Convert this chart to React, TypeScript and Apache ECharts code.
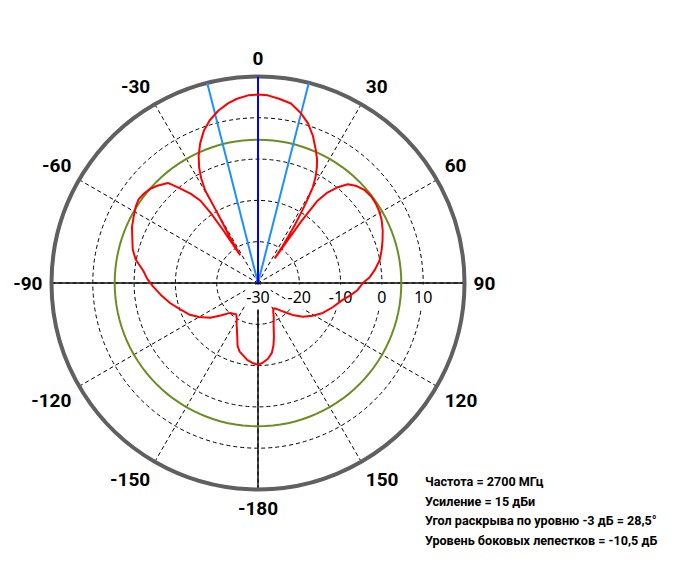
import React, { useEffect, useRef } from "react";
import * as echarts from "echarts";

// Radiation pattern (angle in degrees, gain in dBi)
const patternAngles = [
  -180, -176, -172, -168, -165, -162, -159, -156, -153, -149, -145, -141, -137, -131, -126, -120, -115, -109, -103, -97,
  -92, -88, -84, -79, -75, -70, -66, -62, -58, -55, -52, -49, -46, -42, -39.5, -37, -35, -34, -33.4, -32.7,
  -31.5, -30.5, -30, -29.7, -28.5, -27, -25, -22.5, -19.5, -16.5, -13, -9.5, -6.5, -3, 0, 3, 6.5, 10.4, 14, 17.4,
  20.5, 23.6, 25.5, 27, 28.5, 29.8, 30.8, 31.6, 32.4, 33.1, 33.7, 34.2, 35, 35.9, 37.5, 39.8, 42.3, 45.5, 49, 52.5,
  56, 59.5, 63, 67, 71, 75, 79.3, 83.5, 87, 90, 94, 98, 101.3, 108, 114.8, 121, 127, 132, 136, 140,
  144, 148, 151.5, 155.5, 159.5, 163.5, 166, 168.7, 172.5, 176.4, 180,
];
const patternGain = [
  -10.2, -10.6, -11.2, -12.2, -12.8, -14.0, -16.0, -17.5, -18.6, -20.0, -20.8, -20.4, -20.1, -18.0, -15.7, -13.5, -11.8, -10.2, -8.2, -6.3,
  -4.6, -3.2, -2.1, 0.2, 1.4, 2.4, 3.4, 4.1, 4.9, 5.3, 5.1, 4.7, 3.9, 2.6, -0.3, -3.0, -5.6, -9.5, -14.7, -22.0,
  -17.0, -13.0, -9.0, -4.2, -1.2, 1.4, 4.0, 6.6, 9.2, 11.1, 12.8, 14.1, 14.9, 15.5, 15.65, 15.5, 14.9, 14.2, 12.5, 10.5,
  8.0, 5.0, 3.2, 1.4, -0.8, -3.3, -7.0, -10.2, -13.5, -16.7, -19.5, -22.8, -12.0, -5.4, -2.4, 0.2, 2.3, 3.5, 4.25, 4.5,
  4.4, 4.1, 3.6, 2.8, 1.9, 1.0, 0.0, -1.5, -2.9, -4.6, -5.8, -7.6, -9.1, -11.0, -12.7, -14.6, -16.4, -18.3, -19.9, -21.2,
  -22.2, -22.8, -22.3, -20.8, -19.2, -16.4, -14.5, -12.8, -11.5, -10.7, -10.2,
];

const radialMin = -30;
const radialMax = 20;
const radialStep = 10;
const angleStep = 30;
const sidelobeLevel = 4.7;
const mainBeamAngle = 0;
const beamEdges = [-14.25, 14.25];
const infoLines = [
  "Частота = 2700 МГц",
  "Усиление = 15 дБи",
  "Угол раскрыва по уровню -3 дБ = 28,5°",
  "Уровень боковых лепестков = -10,5 дБ",
];

// map a pattern angle (-180..180, 0 = up, clockwise) onto the axis (90..450, starting at 3 o'clock)
const toAxisAngle = (t: number) => (t < 90 ? t + 360 : t);

export default function App() {
  const ref = useRef<HTMLDivElement>(null);

  useEffect(() => {
    if (!ref.current) return;
    const chart = echarts.init(ref.current, undefined, { renderer: "svg" });

    const redData = patternAngles.map((a, i) => [patternGain[i], toAxisAngle(a)]);
    const greenData: number[][] = [];
    for (let a = 90; a <= 450; a += 3) greenData.push([sidelobeLevel, a]);

    const lineBase = {
      type: "line",
      coordinateSystem: "polar",
      symbol: "none",
      silent: true,
      animation: false,
    };

    chart.setOption({
      animation: false,
      backgroundColor: "#ffffff",
      polar: { center: [258, 283], radius: 206.5 },
      angleAxis: {
        type: "value",
        min: 90,
        max: 450,
        interval: angleStep,
        startAngle: 0,
        clockwise: true,
        axisLine: { show: true, lineStyle: { color: "#606060", width: 4 } },
        axisTick: { show: false },
        axisLabel: {
          margin: 9,
          color: "#000",
          fontSize: 19,
          fontWeight: "bold",
          fontFamily: "Roboto, sans-serif",
          formatter: (v: number) => {
            if (v === 450) return "";
            let a = ((v % 360) + 360) % 360;
            if (a >= 180) a -= 360;
            return String(a);
          },
        },
        splitLine: { show: true, lineStyle: { color: "#000", width: 1, type: [4, 3] } },
      },
      radiusAxis: {
        type: "value",
        min: radialMin,
        max: radialMax,
        interval: radialStep,
        axisLine: { show: false },
        axisTick: { show: false },
        axisLabel: {
          showMaxLabel: false,
          margin: -14,
          verticalAlign: "middle",
          color: "#000",
          fontSize: 16,
          fontFamily: "'Noto Sans', 'DejaVu Sans', sans-serif",
          backgroundColor: "#ffffff",
          padding: [3, 1, 6, 1],
          formatter: (v: number) => (v >= radialMax ? "" : String(v)),
        },
        splitLine: { show: true, lineStyle: { color: "#000", width: 1, type: [4, 3] } },
      },
      series: [
        {
          ...lineBase,
          z: -1,
          data: [
            [radialMax, 90],
            [radialMax, 270],
          ],
          lineStyle: { color: "#4a4a4a", width: 2 },
        },
        {
          ...lineBase,
          z: -1,
          data: [
            [radialMax, 180],
            [radialMax, 360],
          ],
          lineStyle: { color: "#4a4a4a", width: 2 },
        },
        {
          ...lineBase,
          z: 3,
          data: greenData,
          lineStyle: { color: "#6b8e23", width: 2 },
        },
        ...beamEdges.map((b) => ({
          ...lineBase,
          z: 4,
          data: [
            [radialMin, toAxisAngle(b)],
            [radialMax, toAxisAngle(b)],
          ],
          lineStyle: { color: "#1e8fff", width: 2 },
        })),
        {
          ...lineBase,
          z: 5,
          data: [
            [radialMin, toAxisAngle(mainBeamAngle)],
            [radialMax, toAxisAngle(mainBeamAngle)],
          ],
          lineStyle: { color: "#0000ff", width: 2 },
        },
        {
          ...lineBase,
          z: 6,
          data: redData,
          lineStyle: { color: "#ff0000", width: 2 },
        },
      ],
      graphic: [
        {
          type: "text",
          x: 425,
          y: 472,
          scaleX: 0.97,
          silent: true,
          style: {
            text: infoLines.join("\n"),
            fill: "#000",
            font: "bold 13px Roboto, sans-serif",
            lineHeight: 19.5,
          },
        },
      ],
    });

    return () => chart.dispose();
  }, []);

  return (
    <div
      ref={ref}
      style={{ position: "fixed", left: 0, top: 0, width: 680, height: 567, background: "#fff" }}
    />
  );
}
